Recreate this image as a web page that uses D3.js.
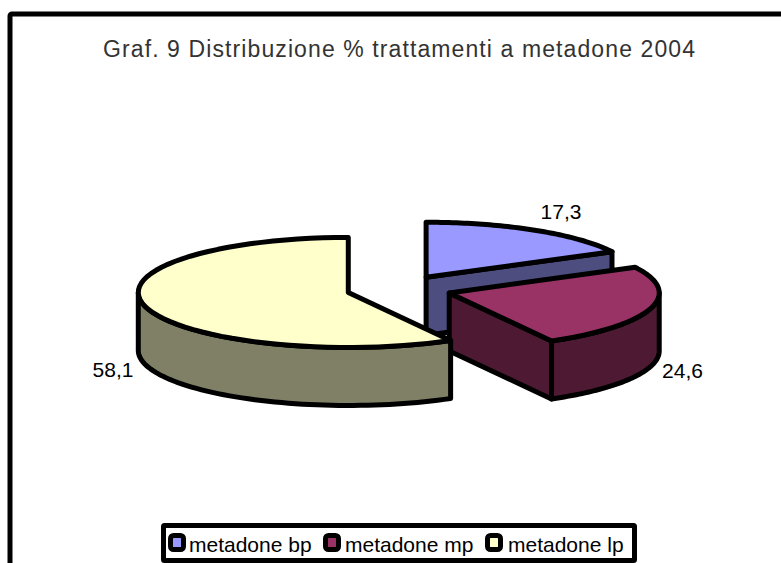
<!DOCTYPE html>
<html><head><meta charset="utf-8">
<script src="https://cdn.jsdelivr.net/npm/d3@7"></script>
<style>html,body{margin:0;background:#fff;overflow:hidden}svg{display:block}text{font-family:"Liberation Sans",Arial,sans-serif;fill:#000}</style>
</head><body><svg id="c" width="781" height="563"></svg>
<script>
const title = "Graf. 9 Distribuzione % trattamenti a metadone 2004";
const categories = ["metadone bp","metadone mp","metadone lp"];
const values = [17.3,24.6,58.1];
const labels = ["17,3","24,6","58,1"];
const topColors = ["#9999FF","#993366","#FFFFCC"];
const wallColors = ["#4D4D80","#4D1933","#808066"];

const W=781,H=563,cx=399,cy=289,rx=210,ry=55,depth=58,explode=52.4,sw=5;
const svg=d3.select("#c");
svg.append("rect").attr("x",10).attr("y",14).attr("width",W+20).attr("height",H+20)
  .attr("fill","#fff").attr("stroke","#000").attr("stroke-width",5).attr("rx",2);
svg.append("text").attr("x",399).attr("y",57).attr("text-anchor","middle")
  .attr("font-size",23).style("fill","#333").attr("textLength",592).attr("lengthAdjust","spacing").text(title);

const arcs=d3.pie().sort(null)(values);
const xAt=(a,c)=>c.x+rx*Math.sin(a);
const yAt=(a,c)=>c.y-ry*Math.cos(a);
const line=d3.line().x(d=>d[0]).y(d=>d[1]);
const sweep=(a0,a1,c,dy=0)=>d3.range(0,61).map(i=>{
  const a=a0+(a1-a0)*i/60; return [xAt(a,c),yAt(a,c)+dy];});
const centre=d=>{const m=(d.startAngle+d.endAngle)/2;
  return {x:cx+explode*Math.sin(m),y:cy-explode*Math.cos(m)*ry/rx};};
const style=(s,f)=>s.attr("fill",f).attr("stroke","#000").attr("stroke-width",sw).attr("stroke-linejoin","round");

arcs.forEach((d,i)=>{
  const c=centre(d),g=svg.append("g");
  const a0=d.startAngle,a1=d.endAngle;
  if(a1<Math.PI){
    const ex=xAt(a1,c),ey=yAt(a1,c);
    const pts=[[c.x,c.y],[ex,ey],[ex,ey+depth],[c.x,c.y+depth]];
    style(g.append("path").attr("d",line(pts)+"Z"),wallColors[i]);
  }
  const w0=Math.max(a0,Math.PI/2),w1=Math.min(a1,Math.PI*1.5);
  if(w1>w0){
    const pts=sweep(w0,w1,c).concat(sweep(w0,w1,c,depth).reverse());
    style(g.append("path").attr("d",line(pts)+"Z"),wallColors[i]);
  }
  const top=[[c.x,c.y]].concat(sweep(a0,a1,c));
  style(g.append("path").attr("d",line(top)+"Z"),topColors[i]);
});

const labelPos=[[561,219],[682.5,378],[113,377]];
labels.forEach((t,i)=>svg.append("text").attr("x",labelPos[i][0]).attr("y",labelPos[i][1])
  .attr("text-anchor","middle").attr("font-size",21).text(t));

svg.append("rect").attr("x",163.5).attr("y",525.5).attr("width",471).attr("height",35)
  .attr("fill","#fff").attr("stroke","#000").attr("stroke-width",5).attr("rx",1);
const keyX=[170.5,325.5,487.5], textX=[189,345,508];
categories.forEach((t,i)=>{
  svg.append("rect").attr("x",keyX[i]).attr("y",535.5).attr("width",13).attr("height",14).attr("rx",3)
    .attr("fill",topColors[i]).attr("stroke","#000").attr("stroke-width",5);
  svg.append("text").attr("x",textX[i]).attr("y",552).attr("font-size",21).text(t);
});
</script></body></html>
